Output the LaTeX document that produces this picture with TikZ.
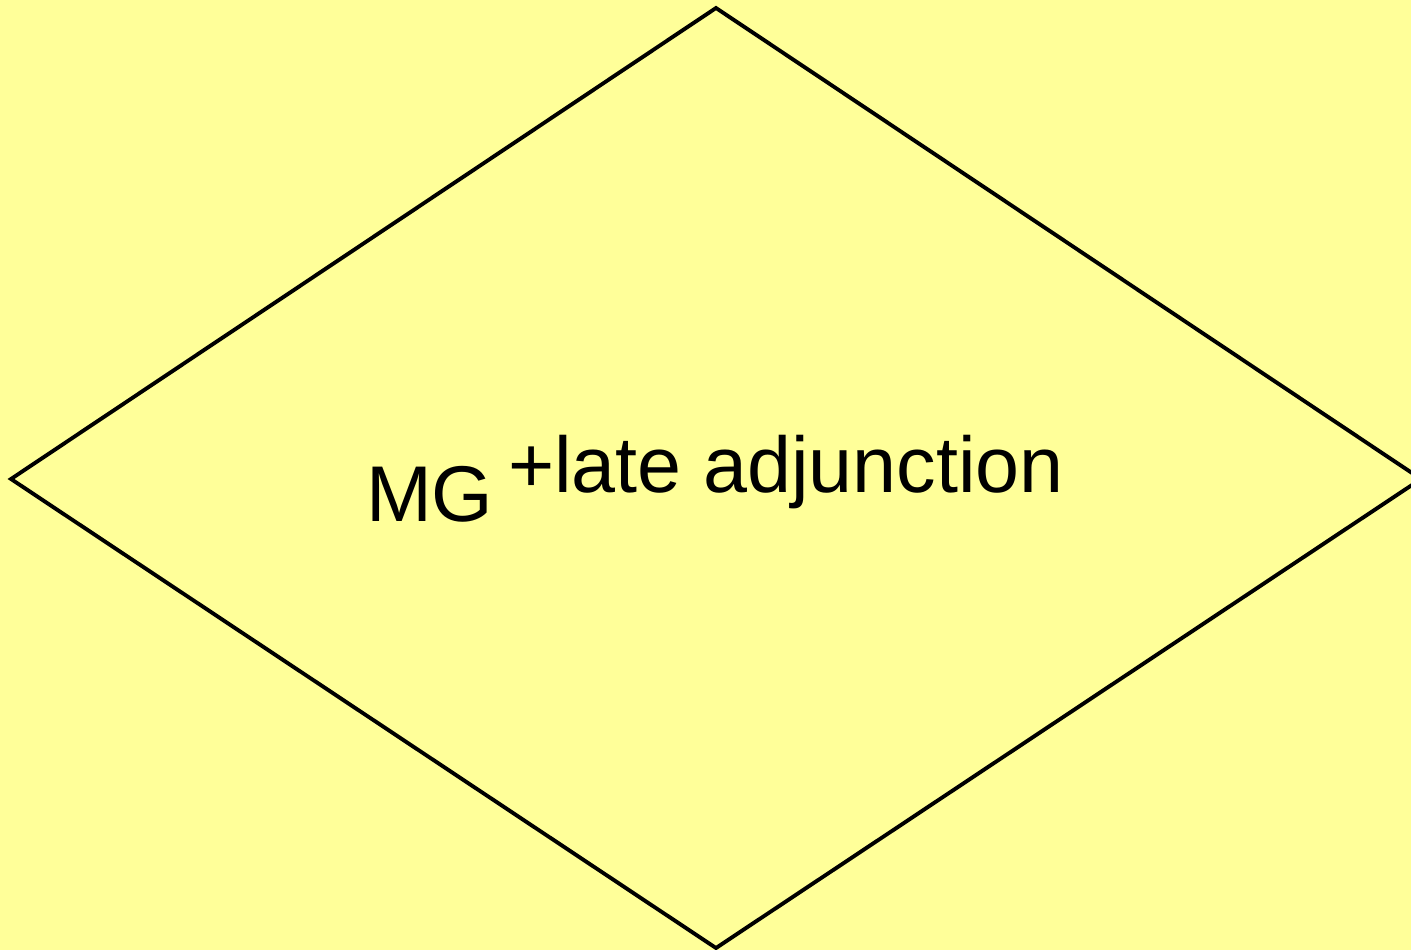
\documentclass[tikz,border=0pt]{standalone}
\usepackage{fontspec}
\setmainfont{Liberation Sans}
\definecolor{bgyellow}{HTML}{FFFF99}
\begin{document}
\begin{tikzpicture}[x=0.02cm,y=-0.02cm,
  edge/.style={draw=black,line width=2.2pt,line join=miter},
  lbl/.style={inner sep=0pt,outer sep=0pt,anchor=base west,font=\fontsize{45}{54}\selectfont}]
\fill[bgyellow] (0,0) rectangle (1411,950);
\useasboundingbox (0,0) rectangle (1411,950);
\coordinate (top) at (716,8);
\coordinate (left) at (11,479);
\coordinate (right) at (1421,479);
\coordinate (bottom) at (716,948);
\draw[edge] (top) -- (right) -- (bottom) -- (left) -- cycle;
\node[lbl] (mg) at (366,521) {MG};
\node[lbl] (late) at (508,492) {+late adjunction};
\end{tikzpicture}
\end{document}
